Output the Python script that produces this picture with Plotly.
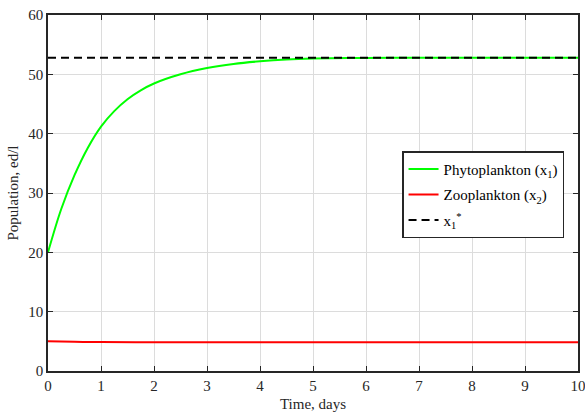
import plotly.graph_objects as go

# Data
t_phyto = [0, 0.25, 0.5, 0.75, 1.0, 1.25, 1.5, 1.75, 2.0, 2.5, 3.0, 3.5, 4.0, 4.5, 5.0, 6.0, 7.0, 8.0, 9.0, 10.0]
phyto = [20.0, 27.3, 33.0, 37.6, 41.2, 43.8, 45.8, 47.3, 48.45, 50.0, 51.05, 51.75, 52.2, 52.5, 52.65, 52.76, 52.8, 52.8, 52.8, 52.8]

t_zoo = [0, 0.5, 1.0, 2.0, 3.0, 4.0, 5.0, 6.0, 7.0, 8.0, 9.0, 10.0]
zoo = [5.0, 4.92, 4.88, 4.86, 4.86, 4.86, 4.86, 4.86, 4.86, 4.86, 4.86, 4.86]

t_eq = [0, 10]
x1_star = 52.8

x_ticks = [0, 1, 2, 3, 4, 5, 6, 7, 8, 9, 10]
y_ticks = [0, 10, 20, 30, 40, 50, 60]

FONT = "Liberation Serif"

fig = go.Figure()
fig.add_trace(go.Scatter(x=t_phyto, y=phyto, mode="lines", line=dict(color="#00ff00", width=2, shape="spline"),
                         name="Phytoplankton (x<sub>1</sub>)", legendgroup="a"))
fig.add_trace(go.Scatter(x=t_zoo, y=zoo, mode="lines", line=dict(color="#ff0000", width=2, shape="spline"),
                         name="Zooplankton (x<sub>2</sub>)", legendgroup="b"))
fig.add_trace(go.Scatter(x=t_eq, y=[x1_star] * len(t_eq), mode="lines",
                         line=dict(color="black", width=2, dash="8px,5px"),
                         name="x<sub>1</sub><sup>*</sup>", legendgroup="c"))

axis_common = dict(
    showline=True, linecolor="#262626", linewidth=1.5, mirror="ticks",
    ticks="inside", ticklen=5, tickwidth=1.2, tickcolor="#262626",
    showgrid=True, gridcolor="#dcdcdc", gridwidth=1, zeroline=False,
    tickfont=dict(family=FONT, size=15, color="#262626"),
    automargin=False, ticklabeloverflow="allow",
)

fig.update_xaxes(range=[0, 10], tickvals=x_ticks,
                 title=dict(text="Time, days", font=dict(family=FONT, size=15, color="#262626"), standoff=8),
                 **axis_common)
fig.update_yaxes(range=[0, 60], tickvals=y_ticks,
                 title=dict(text="Population, ed/l", font=dict(family=FONT, size=15, color="#262626"), standoff=6),
                 **axis_common)

fig.update_layout(
    width=585, height=412,
    margin=dict(l=48, r=7, t=15, b=41),
    paper_bgcolor="white", plot_bgcolor="white",
    font=dict(family=FONT, size=14, color="#262626"),
    legend=dict(x=0.668, y=0.617, xanchor="left", yanchor="top",
                bgcolor="white", bordercolor="#262626", borderwidth=1.5,
                tracegroupgap=3,
                font=dict(family=FONT, size=15, color="black")),
    showlegend=True,
)

fig.write_html("out.html")
